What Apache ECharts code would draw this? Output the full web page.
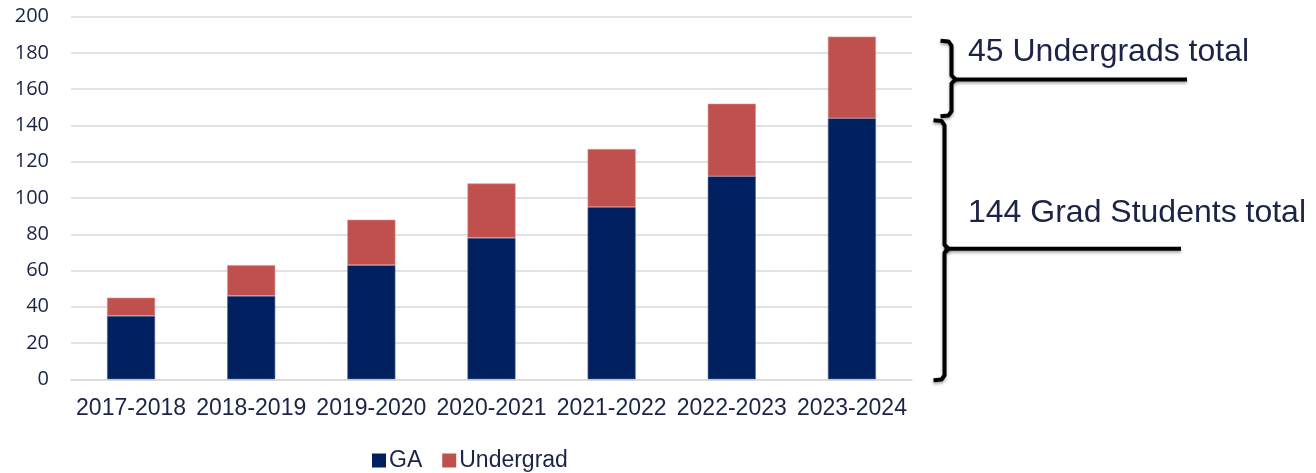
<!DOCTYPE html>
<html><head><meta charset="utf-8">
<script src="https://cdn.jsdelivr.net/npm/echarts@6/dist/echarts.min.js"></script>
<style>html,body{margin:0;padding:0;background:#fff}#c{width:1316px;height:473px}</style>
</head><body><div id="c"></div>
<script>
const categories = ['2017-2018','2018-2019','2019-2020','2020-2021','2021-2022','2022-2023','2023-2024'];
const gaValues = [35, 46, 63, 78, 95, 112, 144];
const undergradValues = [10, 17, 25, 30, 32, 40, 45];
const yMin = 0, yMax = 200, yStep = 20;
const seriesNames = ['GA', 'Undergrad'];

const navy = '#1b2346';
const chart = echarts.init(document.getElementById('c'), null, {renderer: 'canvas'});
chart.setOption({
  animation: false,
  backgroundColor: '#ffffff',
  grid: {left: 71, right: 404, top: 16.7, bottom: 93.7, containLabel: false, outerBoundsMode: 'none'},
  legend: {
    data: seriesNames, left: 367, top: 444, icon: 'rect', itemWidth: 14, itemHeight: 14, itemGap: 20,
    itemStyle: {borderWidth: 0},
    textStyle: {fontFamily: '"Liberation Sans", Arial, sans-serif', fontSize: 23, color: navy, padding: [0, 0, 0, -2]}
  },
  xAxis: {
    type: 'category', data: categories,
    axisLine: {show: true, lineStyle: {color: '#d9d9d9', width: 1.5}},
    axisTick: {show: false},
    axisLabel: {fontFamily: '"Liberation Sans", Arial, sans-serif', fontSize: 23, color: navy, margin: 18, interval: 0}
  },
  yAxis: {
    type: 'value', min: yMin, max: yMax, interval: yStep,
    axisLine: {show: false}, axisTick: {show: false},
    splitLine: {lineStyle: {color: '#d9d9d9', width: 1.5}},
    axisLabel: {fontFamily: '"Open Sans", sans-serif', fontSize: 20, color: navy, margin: 22}
  },
  series: [
    {name: seriesNames[0], type: 'bar', stack: 'total', data: gaValues, barWidth: '40%',
     itemStyle: {color: '#002060', borderColor: '#5a6f9a', borderWidth: 0.6}},
    {name: seriesNames[1], type: 'bar', stack: 'total', data: undergradValues, barWidth: '40%',
     itemStyle: {color: '#c0504d', borderColor: '#e08f8c', borderWidth: 0.6}}
  ]
});

function py(v) { return chart.convertToPixel({yAxisIndex: 0}, v); }
const last = gaValues.length - 1;
const gaTop = gaValues[last];
const total = gaValues[last] + undergradValues[last];

const uTop = py(total) + 4, uBot = py(gaTop) - 2, uMid = py((gaTop + total) / 2) + 2;
const lTop = py(gaTop) + 2, lBot = py(0) + 1, lMid = py(gaTop / 2);
const ux = 951.5, lx = 944.5;
const braceStyle = {stroke: '#000', lineWidth: 4, fill: null, shadowBlur: 3, shadowColor: 'rgba(0,0,0,0.35)', shadowOffsetY: 2, lineCap: 'butt', lineJoin: 'round'};
function brace(x, top, mid, bot) {
  return [[x - 11, top], [x - 3, top + 0.8], [x, top + 5], [x, mid - 4], [x + 4, mid], [x, mid + 4],
          [x, bot - 5], [x - 3, bot - 0.8], [x - 11, bot]];
}
chart.setOption({
  graphic: [
    {type: 'polyline', shape: {points: brace(ux, uTop, uMid, uBot)}, style: braceStyle},
    {type: 'polyline', shape: {points: brace(lx, lTop, lMid, lBot)}, style: braceStyle},
    {type: 'line', shape: {x1: ux + 3, y1: uMid, x2: 1187, y2: uMid}, style: braceStyle},
    {type: 'line', shape: {x1: lx, y1: lMid, x2: 1181, y2: lMid}, style: braceStyle},
    {type: 'text', x: 968, y: uMid - 27.5, style: {text: undergradValues[last] + ' Undergrads total', fill: navy,
      font: '32px "Liberation Sans", Arial, sans-serif', align: 'left', verticalAlign: 'middle'}},
    {type: 'text', x: 968, y: lMid - 36, style: {text: gaValues[last] + ' Grad Students total', fill: navy,
      font: '32px "Liberation Sans", Arial, sans-serif', align: 'left', verticalAlign: 'middle'}}
  ]
});
</script></body></html>
